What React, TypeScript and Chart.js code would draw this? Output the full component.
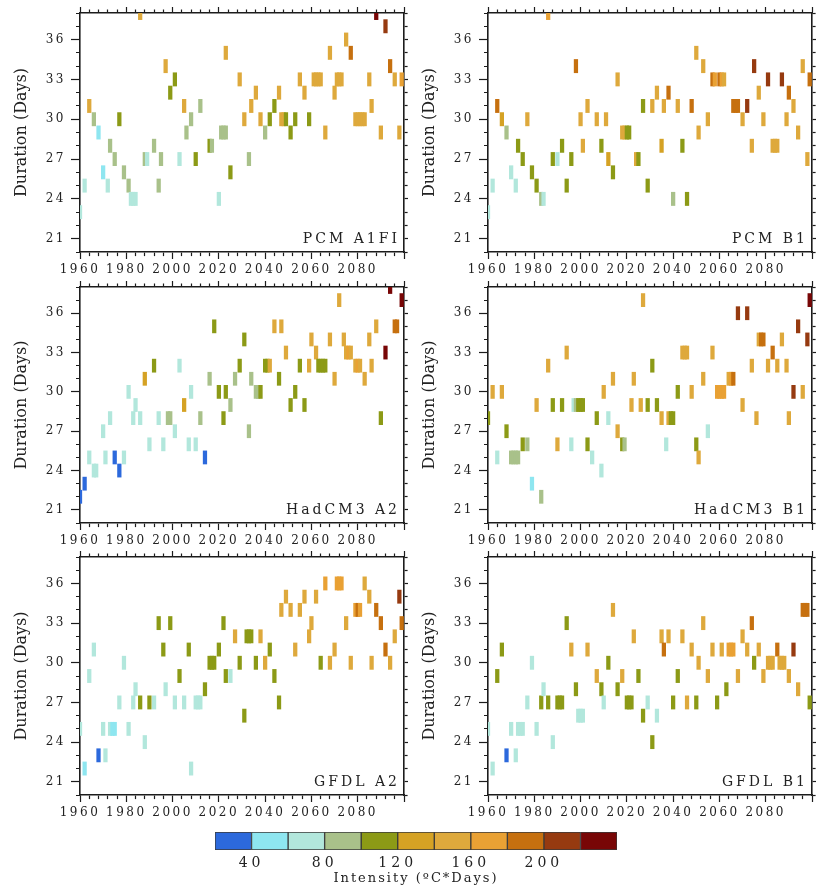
import React, { useEffect, useRef } from 'react';
import { Chart, registerables } from 'chart.js';

Chart.register(...registerables);

type Cell = [number, number, number]; // [year, duration (days), intensity (ºC*days)]

// ---------------- DATA ----------------
const PCM_A1FI: Cell[] = [
  [1960,23,70],[1962,25,70],[1964,31,150],[1966,30,90],[1968,29,50],[1970,26,50],[1972,25,70],[1973,28,90],
  [1975,27,90],[1977,30,110],[1979,26,90],[1981,25,90],[1982,24,70],[1983,24,70],[1984,24,70],[1986,38,150],
  [1988,27,90],[1989,27,70],[1992,28,90],[1994,25,90],[1995,27,90],[1997,34,150],[1999,32,110],[2001,33,110],
  [2003,27,70],[2005,31,150],[2006,29,90],[2008,30,90],[2010,27,110],[2012,31,90],[2016,28,110],[2017,28,90],
  [2020,24,70],[2021,29,90],[2022,29,90],[2023,29,90],[2023,35,150],[2025,26,110],[2029,33,150],[2031,30,150],
  [2033,27,90],[2034,31,150],[2036,32,150],[2038,30,150],[2040,29,90],[2042,30,110],[2044,31,110],[2046,32,150],
  [2047,30,150],[2048,30,150],[2049,30,110],[2051,29,110],[2053,30,110],[2055,33,150],[2057,32,150],[2059,30,110],
  [2061,33,150],[2062,33,150],[2063,33,150],[2064,33,150],[2066,29,150],[2068,35,150],[2070,32,150],[2071,33,150],
  [2072,33,150],[2073,33,150],[2075,36,150],[2077,35,190],[2079,30,150],[2080,30,150],[2081,30,150],[2082,30,150],
  [2083,30,150],[2085,33,150],[2086,31,150],[2088,38,230],[2090,29,150],[2092,37,210],[2094,34,190],[2096,33,150],
  [2098,29,150],[2099,33,170],
];

const PCM_B1: Cell[] = [
  [1960,23,70],[1962,25,70],[1964,31,190],[1966,30,130],[1968,29,90],[1970,26,70],[1972,25,70],[1973,28,110],
  [1975,27,110],[1977,30,150],[1979,26,110],[1981,25,110],[1983,24,90],[1984,24,70],[1986,38,170],[1988,27,110],
  [1990,27,70],[1992,28,110],[1994,25,110],[1996,27,110],[1998,34,190],[2000,30,150],[2001,28,150],[2003,31,150],
  [2007,30,150],[2009,28,110],[2011,30,150],[2012,27,130],[2014,26,110],[2016,33,150],[2018,29,150],[2019,29,150],
  [2020,29,110],[2021,29,110],[2024,27,150],[2025,27,110],[2027,31,110],[2029,25,110],[2031,31,150],[2033,32,150],
  [2035,28,130],[2036,31,150],[2038,32,190],[2040,24,90],[2042,31,150],[2044,28,110],[2046,24,110],[2048,31,190],
  [2050,35,150],[2051,29,150],[2053,34,150],[2055,30,150],[2057,33,190],[2058,33,170],[2060,33,190],[2061,33,170],
  [2062,33,150],[2066,31,190],[2067,31,190],[2068,31,190],[2070,30,150],[2072,31,210],[2074,28,150],[2075,34,210],
  [2077,32,150],[2079,30,150],[2081,33,210],[2083,28,150],[2084,28,150],[2085,28,150],[2087,33,210],[2089,30,150],
  [2090,32,190],[2092,31,150],[2094,29,150],[2096,34,150],[2098,27,150],[2099,33,190],
];

const HADCM3_A2: Cell[] = [
  [1960,22,25],[1962,23,35],[1964,25,70],[1966,24,70],[1967,24,70],[1970,27,70],[1971,25,70],[1973,28,70],
  [1975,25,35],[1977,24,25],[1979,25,70],[1981,30,70],[1983,28,70],[1984,29,70],[1986,28,70],[1988,31,130],
  [1990,26,70],[1992,32,110],[1994,28,70],[1996,26,70],[1998,28,90],[1999,28,90],[2001,27,70],[2003,32,70],
  [2005,29,130],[2007,26,70],[2008,30,70],[2010,26,70],[2012,28,90],[2014,25,35],[2016,31,90],[2018,35,110],
  [2020,30,110],[2022,28,110],[2023,30,110],[2025,29,90],[2027,31,90],[2029,32,110],[2031,34,110],[2033,27,90],
  [2034,31,90],[2036,30,90],[2037,30,90],[2038,30,110],[2040,32,110],[2041,32,110],[2042,32,150],[2044,35,150],
  [2046,31,110],[2047,35,150],[2049,33,150],[2051,29,110],[2053,30,110],[2055,32,110],[2057,29,110],[2059,32,150],
  [2060,34,150],[2062,33,150],[2063,32,110],[2064,32,110],[2065,32,110],[2066,32,110],[2068,34,150],[2070,31,150],
  [2072,37,150],[2074,34,150],[2075,33,150],[2076,33,170],[2077,33,150],[2079,32,150],[2080,32,170],[2081,32,150],
  [2083,31,150],[2085,34,150],[2086,32,150],[2088,35,150],[2090,28,110],[2092,33,230],[2094,38,230],[2096,35,190],
  [2097,35,190],[2099,37,230],
];

const HADCM3_B1: Cell[] = [
  [1960,28,110],[1962,30,150],[1964,25,70],[1966,30,150],[1968,27,110],[1970,25,90],[1971,25,90],[1972,25,90],
  [1973,25,90],[1975,26,110],[1977,26,90],[1979,23,50],[1983,22,90],[1981,29,150],[1986,32,150],[1988,29,110],
  [1990,26,150],[1992,29,110],[1994,33,150],[1996,26,70],[1997,29,70],[1998,29,90],[1999,29,110],[2000,29,110],
  [2001,29,110],[2003,26,110],[2005,25,70],[2007,28,110],[2009,24,70],[2010,30,150],[2012,28,70],[2014,31,150],
  [2016,27,150],[2018,26,110],[2019,26,90],[2022,29,150],[2023,31,150],[2026,29,150],[2027,37,150],[2029,29,110],
  [2031,32,110],[2033,29,110],[2035,28,150],[2037,26,70],[2038,28,150],[2039,28,110],[2040,28,110],[2042,30,110],
  [2044,33,150],[2045,33,150],[2046,33,150],[2048,30,150],[2050,26,110],[2051,25,150],[2053,31,150],[2055,27,70],
  [2057,33,150],[2059,30,170],[2060,30,170],[2061,30,170],[2062,30,170],[2064,31,150],[2065,31,170],[2066,31,190],
  [2068,36,210],[2070,29,150],[2072,36,210],[2074,32,150],[2076,28,150],[2077,34,150],[2078,34,190],[2079,34,190],
  [2081,32,150],[2083,33,190],[2085,32,150],[2087,34,150],[2089,32,150],[2090,28,150],[2092,30,210],[2094,35,210],
  [2096,30,150],[2098,34,210],[2099,37,230],
];

const GFDL_A2: Cell[] = [
  [1960,25,70],[1962,22,50],[1964,29,70],[1966,31,70],[1968,23,30],[1970,25,70],[1971,23,70],[1973,25,70],
  [1974,25,50],[1975,25,50],[1977,27,70],[1979,30,70],[1981,25,70],[1983,27,70],[1984,28,70],[1986,27,110],
  [1988,24,70],[1990,27,110],[1992,27,70],[1994,33,110],[1996,31,110],[1997,28,70],[1999,33,110],[2001,27,70],
  [2003,29,110],[2005,27,70],[2007,31,110],[2008,22,70],[2010,27,70],[2011,27,70],[2012,27,70],[2014,28,110],
  [2016,30,110],[2017,30,110],[2018,30,110],[2020,31,110],[2022,33,110],[2023,29,110],[2025,29,70],[2027,32,150],
  [2029,30,110],[2031,26,110],[2032,32,110],[2033,32,110],[2034,32,110],[2036,30,110],[2038,32,150],[2040,30,150],
  [2042,31,110],[2044,29,110],[2046,27,110],[2047,34,150],[2049,35,150],[2051,34,150],[2053,31,150],[2055,34,150],
  [2057,35,150],[2059,32,150],[2060,33,150],[2062,35,150],[2064,30,110],[2066,36,170],[2068,30,150],[2070,31,150],
  [2071,36,170],[2072,36,170],[2073,36,170],[2075,33,150],[2077,30,150],[2079,34,170],[2080,34,190],[2081,34,170],
  [2083,36,150],[2085,35,150],[2086,30,150],[2088,34,190],[2090,33,190],[2092,31,190],[2094,30,150],[2096,32,150],
  [2098,35,210],[2099,33,190],
];

const GFDL_B1: Cell[] = [
  [1960,25,70],[1962,22,70],[1964,29,110],[1966,31,110],[1968,23,30],[1970,25,70],[1972,23,70],[1973,25,70],
  [1974,25,70],[1975,25,70],[1977,27,70],[1979,30,70],[1981,25,70],[1983,27,110],[1984,28,70],[1986,27,110],
  [1988,24,70],[1990,27,110],[1991,27,110],[1992,27,110],[1994,33,110],[1996,31,150],[1998,28,110],[1999,26,70],
  [2000,26,70],[2001,26,70],[2003,31,150],[2007,29,150],[2009,28,110],[2010,27,70],[2012,30,110],[2014,34,150],
  [2016,28,110],[2018,29,150],[2020,27,110],[2021,27,110],[2022,27,110],[2023,32,150],[2025,29,110],[2027,26,110],
  [2029,27,70],[2031,24,110],[2033,26,70],[2035,32,150],[2036,31,190],[2038,32,150],[2040,27,110],[2042,29,110],
  [2044,32,150],[2046,27,150],[2048,31,150],[2050,27,110],[2051,30,150],[2053,33,150],[2055,29,150],[2057,31,150],
  [2059,27,110],[2061,31,150],[2063,28,110],[2064,31,170],[2065,31,170],[2066,31,170],[2068,29,150],[2070,32,150],
  [2072,31,150],[2074,33,190],[2075,30,110],[2077,31,150],[2079,29,150],[2081,30,150],[2082,30,150],[2083,30,150],
  [2085,31,190],[2086,30,150],[2087,30,150],[2088,30,150],[2090,29,150],[2092,31,210],[2094,28,150],[2096,34,190],
  [2097,34,190],[2098,34,190],[2099,27,110],
];

const PANEL_TITLES = ['PCM A1FI', 'PCM B1', 'HadCM3 A2', 'HadCM3 B1', 'GFDL A2', 'GFDL B1'];
const PANEL_DATA = [PCM_A1FI, PCM_B1, HADCM3_A2, HADCM3_B1, GFDL_A2, GFDL_B1];

const YEAR_RANGE = [1960, 2100];
const DURATION_RANGE = [20, 38];
const X_TICK_LABELS = [1960, 1980, 2000, 2020, 2040, 2060, 2080];
const Y_TICK_LABELS = [21, 24, 27, 30, 33, 36];

const BIN_EDGES = [20, 40, 60, 80, 100, 120, 140, 160, 180, 200, 220, 240];
const BIN_COLORS = ['#2c69dc', '#8ee6f0', '#b2e7dc', '#a9c18a', '#8c9a16', '#d5a224', '#dea93c',
  '#e9a134', '#c6700f', '#963a10', '#780606'];
const COLORBAR_TICKS = [40, 80, 120, 160, 200];

// ---------------- LAYOUT / STYLE ----------------
const FONT = '"DejaVu Serif", serif';
const AXIS = '#1c1c1c';
const TEXT = '#222';
const PANEL_W = 408;
const PANEL_H = 282;
const LAYOUT = [
  { left: 0, top: 0, topH: 13, bottomH: 30 },
  { left: 408, top: 0, topH: 13, bottomH: 30 },
  { left: 0, top: 272, topH: 15, bottomH: 31 },
  { left: 408, top: 272, topH: 15, bottomH: 31 },
  { left: 0, top: 542, topH: 15, bottomH: 29 },
  { left: 408, top: 542, topH: 15, bottomH: 29 },
];

Chart.defaults.font.family = FONT;

function binColor(v: number): string {
  for (let i = 0; i < BIN_COLORS.length; i++) if (v < BIN_EDGES[i + 1]) return BIN_COLORS[i];
  return BIN_COLORS[BIN_COLORS.length - 1];
}

function wrapSpacing(scale: any, method: string, spacing: string) {
  const key = '__ls_' + method;
  if (scale[key]) return;
  scale[key] = true;
  const orig = scale[method];
  scale[method] = function (...args: any[]) {
    const c = this.ctx;
    const prev = c.letterSpacing;
    c.letterSpacing = spacing;
    try { orig.apply(this, args); } finally { c.letterSpacing = prev; }
  };
}

const isMajorX = (v: number) => (v - YEAR_RANGE[0]) % 20 === 0;
const isMajorY = (v: number) => v % 3 === 0;

const panelLabelPlugin = {
  id: 'panelLabel',
  afterDatasetsDraw(chart: any, _args: any, opts: any) {
    const { ctx, chartArea } = chart;
    ctx.save();
    ctx.font = '14px ' + FONT;
    ctx.fillStyle = TEXT;
    ctx.textAlign = 'right';
    ctx.textBaseline = 'alphabetic';
    (ctx as any).letterSpacing = '3px';
    ctx.fillText(opts.text, chartArea.right - 4, chartArea.bottom - 9);
    ctx.restore();
  },
};

function makePanelConfig(cells: Cell[], label: string, L: { topH: number; bottomH: number }) {
  const tickFont = { family: FONT, size: 12, lineHeight: 1.2 };
  const border = { display: true, color: AXIS, width: 1.6 };
  const xCommon = {
    type: 'linear', min: YEAR_RANGE[0], max: YEAR_RANGE[1], offset: false,
  };
  const yCommon = { type: 'linear', min: DURATION_RANGE[0], max: DURATION_RANGE[1], beginAtZero: false };
  return {
    type: 'bar',
    data: {
      datasets: [{
        data: cells.map((c) => ({ x: c[0], y: [c[1] - 0.5, c[1] + 0.5] })),
        backgroundColor: cells.map((c) => binColor(c[2])),
        borderWidth: 0,
        barThickness: 3.6,
        clip: 0,
      }],
    },
    options: {
      responsive: false,
      animation: false,
      events: [],
      layout: { padding: 0 },
      plugins: { legend: { display: false }, tooltip: { enabled: false }, panelLabel: { text: label } },
      scales: {
        x: {
          ...xCommon, position: 'bottom',
          grid: {
            display: true, drawOnChartArea: false, drawTicks: true, offset: false, tickLength: 7,
            tickColor: AXIS, tickWidth: 1.2,
            tickBorderDash: (c: any) => (c.tick && isMajorX(c.tick.value) ? [] : [3.5, 100]),
          },
          border,
          ticks: {
            stepSize: 4, autoSkip: false, maxRotation: 0, minRotation: 0, padding: 4, color: TEXT, font: tickFont,
            callback: (v: number) => (X_TICK_LABELS.includes(v) ? String(v) : ''),
          },
          afterFit: (s: any) => { s.height = L.bottomH; wrapSpacing(s, 'drawLabels', '2.5px'); },
        },
        xTop: {
          ...xCommon, position: 'top',
          grid: {
            display: true, drawOnChartArea: false, drawTicks: true, offset: false, tickLength: 6,
            tickColor: AXIS, tickWidth: 1.2,
            tickBorderDash: (c: any) => (c.tick && isMajorX(c.tick.value) ? [] : [0, 2.5, 3.5, 100]),
          },
          border,
          ticks: { display: false, stepSize: 4, autoSkip: false },
          afterFit: (s: any) => { s.height = L.topH; },
        },
        y: {
          ...yCommon, position: 'left',
          grid: {
            display: true, drawOnChartArea: false, drawTicks: true, tickLength: 9,
            tickColor: AXIS, tickWidth: 1.2,
            tickBorderDash: (c: any) => (c.tick && isMajorY(c.tick.value) ? [] : [0, 5, 4, 100]),
          },
          border,
          ticks: {
            stepSize: 1, autoSkip: false, padding: 5, color: TEXT, font: { ...tickFont, lineHeight: 1 },
            callback: (v: number) => (Y_TICK_LABELS.includes(v) ? String(v) : ''),
          },
          title: {
            display: true, text: 'Duration (Days)', color: TEXT,
            font: { family: FONT, size: 16, lineHeight: 1.2 }, padding: { top: 12, bottom: 0 },
          },
          afterFit: (s: any) => { s.width = 80; wrapSpacing(s, 'drawLabels', '2.5px'); },
        },
        yRight: {
          ...yCommon, position: 'right',
          grid: {
            display: true, drawOnChartArea: false, drawTicks: true, tickLength: 5,
            tickColor: AXIS, tickWidth: 1.2,
            tickBorderDash: (c: any) => (c.tick && isMajorY(c.tick.value) ? [] : [3, 100]),
          },
          border,
          ticks: { display: false, stepSize: 1, autoSkip: false },
          afterFit: (s: any) => { s.width = 4; },
        },
      },
    },
    plugins: [panelLabelPlugin],
  };
}

function Panel({ idx }: { idx: number }) {
  const ref = useRef<HTMLCanvasElement>(null);
  const L = LAYOUT[idx];
  useEffect(() => {
    const chart = new Chart(ref.current as HTMLCanvasElement, makePanelConfig(PANEL_DATA[idx], PANEL_TITLES[idx], L) as any);
    return () => chart.destroy();
  }, [idx]);
  return (
    <canvas
      ref={ref}
      width={PANEL_W}
      height={PANEL_H}
      style={{ position: 'absolute', left: L.left, top: L.top, width: PANEL_W, height: PANEL_H }}
    />
  );
}

function ColorBar() {
  const ref = useRef<HTMLCanvasElement>(null);
  useEffect(() => {
    const cfg: any = {
      type: 'bar',
      data: {
        labels: [''],
        datasets: BIN_COLORS.map((col, i) => ({
          data: [[BIN_EDGES[i], BIN_EDGES[i + 1]]],
          backgroundColor: col,
          borderColor: '#3a3a3a',
          borderWidth: 1,
          borderSkipped: false,
          grouped: false,
          barPercentage: 1,
          categoryPercentage: 1,
        })),
      },
      options: {
        indexAxis: 'y',
        responsive: false,
        animation: false,
        events: [],
        layout: { padding: { left: 15, right: 13, top: 6, bottom: 0 } },
        plugins: { legend: { display: false }, tooltip: { enabled: false } },
        scales: {
          x: {
            type: 'linear', min: BIN_EDGES[0], max: BIN_EDGES[BIN_EDGES.length - 1],
            grid: { display: false, drawTicks: false },
            border: { display: false },
            afterBuildTicks: (s: any) => { s.ticks = COLORBAR_TICKS.map((v) => ({ value: v })); },
            ticks: { color: TEXT, padding: 5, font: { family: FONT, size: 14, lineHeight: 1.2 } },
            title: {
              display: true, text: 'Intensity (ºC*Days)', color: TEXT,
              font: { family: FONT, size: 13, lineHeight: 1.2 }, padding: { top: 0, bottom: 2 },
            },
            afterFit: (s: any) => {
              s.height = 38;
              wrapSpacing(s, 'drawLabels', '4px');
              wrapSpacing(s, 'drawTitle', '2px');
            },
          },
          y: { display: false },
        },
      },
    };
    const chart = new Chart(ref.current as HTMLCanvasElement, cfg);
    return () => chart.destroy();
  }, []);
  return (
    <canvas
      ref={ref}
      width={430}
      height={62}
      style={{ position: 'absolute', left: 200, top: 826, width: 430, height: 62 }}
    />
  );
}

export default function App() {
  return (
    <div style={{ position: 'absolute', left: 0, top: 0, width: 816, height: 888, background: '#fff' }}>
      {PANEL_DATA.map((_, i) => <Panel key={i} idx={i} />)}
      <ColorBar />
    </div>
  );
}
